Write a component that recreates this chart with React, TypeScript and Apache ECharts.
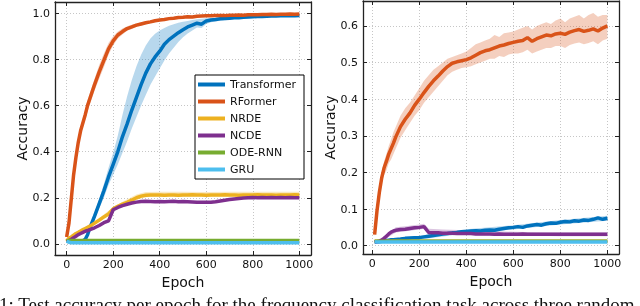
import React, { useEffect, useRef } from 'react';
import * as echarts from 'echarts';

// ---------- shared ----------
const SERIES_NAMES = ['Transformer', 'RFormer', 'NRDE', 'NCDE', 'ODE-RNN', 'GRU'];
const COLORS = ['#0072BD', '#D95319', '#EDB120', '#7E2F8E', '#77AC30', '#4DBEEE'];

// ---------- left panel ----------
const EPOCHS_L = [0, 10, 20, 30, 40, 50, 60, 70, 80, 90, 100, 120, 140, 160, 180, 200, 220, 240, 260, 280, 300, 320, 340, 360, 380, 400, 420, 440, 460, 480, 500, 520, 540, 560, 580, 600, 620, 640, 660, 680, 700, 720, 740, 760, 780, 800, 820, 840, 860, 880, 900, 920, 940, 960, 980, 1000];

const TRANS_L = [0.012, 0.012, 0.011, 0.01, 0.01, 0.01, 0.011, 0.014, 0.02, 0.04, 0.07, 0.12, 0.175, 0.23, 0.29, 0.345, 0.40, 0.465, 0.52, 0.58, 0.635, 0.69, 0.74, 0.78, 0.81, 0.835, 0.865, 0.885, 0.9, 0.915, 0.928, 0.94, 0.948, 0.956, 0.952, 0.966, 0.97, 0.972, 0.975, 0.976, 0.978, 0.98, 0.98, 0.982, 0.983, 0.984, 0.985, 0.985, 0.986, 0.987, 0.987, 0.988, 0.988, 0.989, 0.988, 0.99];
const TRANS_L_UP = [0.016, 0.016, 0.015, 0.014, 0.014, 0.014, 0.015, 0.018, 0.026, 0.048, 0.08, 0.135, 0.195, 0.26, 0.33, 0.395, 0.47, 0.56, 0.64, 0.71, 0.77, 0.82, 0.86, 0.89, 0.91, 0.925, 0.935, 0.945, 0.952, 0.958, 0.962, 0.966, 0.97, 0.973, 0.975, 0.978, 0.979, 0.98, 0.982, 0.983, 0.984, 0.985, 0.986, 0.987, 0.988, 0.989, 0.989, 0.99, 0.99, 0.991, 0.991, 0.992, 0.992, 0.993, 0.992, 0.994];
const TRANS_L_LO = [0.008, 0.008, 0.007, 0.006, 0.006, 0.006, 0.007, 0.01, 0.014, 0.032, 0.06, 0.105, 0.155, 0.2, 0.255, 0.30, 0.345, 0.395, 0.445, 0.5, 0.55, 0.6, 0.645, 0.69, 0.725, 0.76, 0.795, 0.825, 0.85, 0.875, 0.895, 0.912, 0.925, 0.937, 0.935, 0.953, 0.96, 0.963, 0.967, 0.969, 0.971, 0.974, 0.975, 0.977, 0.978, 0.979, 0.981, 0.981, 0.982, 0.983, 0.983, 0.984, 0.984, 0.985, 0.984, 0.986];

const RFORMER_L = [0.03, 0.09, 0.195, 0.30, 0.375, 0.44, 0.49, 0.525, 0.56, 0.60, 0.63, 0.69, 0.745, 0.795, 0.845, 0.88, 0.905, 0.92, 0.933, 0.94, 0.948, 0.953, 0.958, 0.962, 0.967, 0.97, 0.972, 0.976, 0.978, 0.981, 0.982, 0.984, 0.983, 0.986, 0.987, 0.988, 0.988, 0.989, 0.99, 0.989, 0.991, 0.991, 0.992, 0.991, 0.993, 0.993, 0.993, 0.994, 0.994, 0.995, 0.994, 0.995, 0.995, 0.996, 0.995, 0.996];
const RFORMER_L_UP = [0.035, 0.1, 0.205, 0.31, 0.39, 0.455, 0.505, 0.545, 0.58, 0.625, 0.655, 0.715, 0.775, 0.825, 0.87, 0.9, 0.92, 0.933, 0.943, 0.949, 0.955, 0.96, 0.964, 0.967, 0.971, 0.974, 0.976, 0.979, 0.981, 0.984, 0.985, 0.987, 0.987, 0.989, 0.99, 0.991, 0.991, 0.992, 0.993, 0.992, 0.994, 0.994, 0.995, 0.994, 0.996, 0.996, 0.996, 0.997, 0.997, 0.998, 0.997, 0.998, 0.998, 0.999, 0.998, 0.999];
const RFORMER_L_LO = [0.025, 0.08, 0.185, 0.29, 0.36, 0.425, 0.475, 0.505, 0.54, 0.575, 0.605, 0.665, 0.715, 0.765, 0.82, 0.86, 0.89, 0.907, 0.923, 0.931, 0.941, 0.946, 0.952, 0.957, 0.963, 0.966, 0.968, 0.973, 0.975, 0.978, 0.979, 0.981, 0.979, 0.983, 0.984, 0.985, 0.985, 0.986, 0.987, 0.986, 0.988, 0.988, 0.989, 0.988, 0.99, 0.99, 0.99, 0.991, 0.991, 0.992, 0.991, 0.992, 0.992, 0.993, 0.992, 0.993];

const NRDE_L = [0.012, 0.025, 0.03, 0.038, 0.045, 0.05, 0.056, 0.062, 0.067, 0.072, 0.077, 0.09, 0.103, 0.117, 0.13, 0.152, 0.163, 0.172, 0.18, 0.19, 0.2, 0.207, 0.211, 0.212, 0.212, 0.212, 0.211, 0.212, 0.212, 0.211, 0.212, 0.212, 0.213, 0.212, 0.212, 0.211, 0.212, 0.212, 0.212, 0.213, 0.212, 0.212, 0.211, 0.212, 0.212, 0.212, 0.213, 0.212, 0.212, 0.212, 0.211, 0.212, 0.212, 0.212, 0.213, 0.212];
const NRDE_BAND_EPOCHS_L = [0, 50, 100, 150, 200, 250, 300, 340, 400, 500, 600, 700, 800, 900, 1000];
const NRDE_L_UP = [0.015, 0.055, 0.085, 0.12, 0.16, 0.188, 0.214, 0.225, 0.226, 0.226, 0.225, 0.226, 0.226, 0.226, 0.226];
const NRDE_L_LO = [0.01, 0.045, 0.07, 0.1, 0.142, 0.168, 0.19, 0.202, 0.205, 0.205, 0.205, 0.205, 0.206, 0.205, 0.205];

const NCDE_L = [0.01, 0.015, 0.02, 0.027, 0.033, 0.04, 0.045, 0.05, 0.055, 0.058, 0.062, 0.07, 0.08, 0.092, 0.10, 0.148, 0.158, 0.166, 0.172, 0.177, 0.181, 0.184, 0.185, 0.184, 0.183, 0.184, 0.183, 0.184, 0.185, 0.183, 0.184, 0.183, 0.182, 0.181, 0.18, 0.18, 0.181, 0.183, 0.186, 0.189, 0.192, 0.195, 0.197, 0.199, 0.2, 0.201, 0.2, 0.201, 0.2, 0.201, 0.2, 0.201, 0.2, 0.201, 0.2, 0.2];

const FLAT_EPOCHS_L = [0, 10, 20, 1000];
const ODERNN_L = [0.012, 0.015, 0.015, 0.015];
const GRU_L = [0.012, 0.007, 0.005, 0.005];

// ---------- right panel ----------
const EPOCHS_R = [10, 20, 30, 40, 50, 60, 70, 80, 90, 100, 120, 140, 160, 180, 200, 220, 240, 260, 280, 300, 320, 340, 360, 380, 400, 420, 440, 460, 480, 500, 520, 540, 560, 580, 600, 620, 640, 660, 680, 700, 720, 740, 760, 780, 800, 820, 840, 860, 880, 900, 920, 940, 960, 980, 1000];

const RFORMER_R = [0.03, 0.095, 0.145, 0.185, 0.212, 0.23, 0.25, 0.265, 0.28, 0.297, 0.325, 0.345, 0.362, 0.383, 0.40, 0.418, 0.435, 0.45, 0.463, 0.477, 0.489, 0.498, 0.502, 0.505, 0.508, 0.513, 0.52, 0.527, 0.532, 0.535, 0.54, 0.545, 0.548, 0.552, 0.555, 0.558, 0.56, 0.568, 0.558, 0.565, 0.57, 0.575, 0.573, 0.578, 0.58, 0.577, 0.583, 0.587, 0.59, 0.585, 0.588, 0.592, 0.586, 0.594, 0.6];
const RFORMER_R_UP = [0.035, 0.105, 0.16, 0.2, 0.23, 0.25, 0.272, 0.29, 0.31, 0.325, 0.355, 0.375, 0.39, 0.41, 0.43, 0.45, 0.465, 0.48, 0.49, 0.5, 0.51, 0.515, 0.52, 0.525, 0.53, 0.54, 0.55, 0.555, 0.56, 0.565, 0.575, 0.57, 0.58, 0.582, 0.585, 0.59, 0.595, 0.6, 0.59, 0.6, 0.605, 0.61, 0.605, 0.615, 0.62, 0.61, 0.62, 0.625, 0.63, 0.62, 0.63, 0.635, 0.625, 0.63, 0.63];
const RFORMER_R_LO = [0.025, 0.085, 0.13, 0.17, 0.192, 0.205, 0.225, 0.235, 0.25, 0.265, 0.295, 0.315, 0.335, 0.355, 0.37, 0.39, 0.405, 0.42, 0.435, 0.45, 0.465, 0.475, 0.48, 0.485, 0.487, 0.49, 0.495, 0.5, 0.505, 0.51, 0.51, 0.518, 0.515, 0.522, 0.525, 0.525, 0.528, 0.535, 0.525, 0.53, 0.535, 0.54, 0.54, 0.545, 0.545, 0.54, 0.548, 0.552, 0.555, 0.55, 0.553, 0.558, 0.55, 0.56, 0.565];

const TRANS_R = [0.01, 0.011, 0.011, 0.012, 0.013, 0.014, 0.015, 0.016, 0.016, 0.017, 0.018, 0.02, 0.021, 0.022, 0.022, 0.024, 0.026, 0.028, 0.03, 0.032, 0.033, 0.035, 0.036, 0.038, 0.039, 0.04, 0.041, 0.04, 0.042, 0.043, 0.042, 0.045, 0.047, 0.049, 0.05, 0.052, 0.05, 0.054, 0.056, 0.058, 0.056, 0.06, 0.062, 0.061, 0.064, 0.066, 0.065, 0.068, 0.067, 0.07, 0.069, 0.072, 0.076, 0.072, 0.075];
const TRANS_BAND_EPOCHS_R = [10, 200, 400, 600, 800, 1000];
const TRANS_R_UP = [0.013, 0.027, 0.045, 0.056, 0.07, 0.082];
const TRANS_R_LO = [0.007, 0.017, 0.033, 0.044, 0.058, 0.068];

const NCDE_R = [0.01, 0.011, 0.012, 0.015, 0.02, 0.026, 0.032, 0.037, 0.04, 0.042, 0.044, 0.045, 0.047, 0.049, 0.05, 0.052, 0.036, 0.035, 0.035, 0.034, 0.034, 0.034, 0.033, 0.033, 0.033, 0.033, 0.032, 0.032, 0.032, 0.032, 0.031, 0.032, 0.031, 0.031, 0.031, 0.031, 0.032, 0.031, 0.031, 0.031, 0.031, 0.031, 0.031, 0.031, 0.031, 0.031, 0.031, 0.031, 0.031, 0.031, 0.031, 0.031, 0.031, 0.031, 0.031];
const NCDE_BAND_EPOCHS_R = [10, 50, 100, 150, 200, 220, 240, 300, 400, 500, 600, 700, 800, 900, 1000];
const NCDE_R_UP = [0.012, 0.025, 0.05, 0.054, 0.058, 0.06, 0.046, 0.044, 0.042, 0.04, 0.038, 0.037, 0.036, 0.036, 0.036];
const NCDE_R_LO = [0.008, 0.016, 0.036, 0.04, 0.044, 0.046, 0.03, 0.029, 0.029, 0.028, 0.027, 0.027, 0.026, 0.026, 0.026];

const FLAT_EPOCHS_R = [10, 20, 30, 1000];
const NRDE_R = [0.012, 0.012, 0.012, 0.012];
const ODERNN_R = [0.012, 0.012, 0.012, 0.012];
const GRU_R = [0.011, 0.01, 0.01, 0.01];

const CAPTION = '1: Test accuracy per epoch for the frequency classification task across three random seeds.';

// ---------- helpers ----------
const FONT = 'DejaVu Sans';
const FRAME = '#222';

const pairs = (xs: number[], ys: number[]) => xs.map((x, i) => [x, ys[i]]);

function line(name: string, color: string, xs: number[], ys: number[], ai: number) {
  return {
    type: 'line', name, xAxisIndex: ai, yAxisIndex: ai,
    data: pairs(xs, ys), symbol: 'none', showSymbol: false,
    color, itemStyle: { color }, lineStyle: { color, width: 3.5 },
    silent: true, z: 3, emphasis: { disabled: true },
  };
}

// shaded min/max band drawn as one polygon through the axis scales
function band(id: string, color: string, xs: number[], lo: number[], up: number[], ai: number) {
  return {
    type: 'custom', name: id, xAxisIndex: ai, yAxisIndex: ai, silent: true, z: 2,
    data: xs.map((x, i) => [x, lo[i], up[i]]),
    encode: { x: 0, y: [1, 2] },
    renderItem: (params: any, api: any) => {
      if (params.dataIndex !== 0) return null;
      const top = xs.map((x, i) => api.coord([x, up[i]]));
      const bottom = xs.map((x, i) => api.coord([x, lo[i]])).reverse();
      return {
        type: 'polygon',
        shape: { points: top.concat(bottom) },
        style: { fill: color, opacity: 0.28 },
        silent: true,
      };
    },
  };
}

function xAxisDef(gridIndex: number, position: string, primary: boolean, min: number, max: number) {
  return {
    type: 'value', gridIndex, position, min, max,
    name: primary ? 'Epoch' : '', nameLocation: 'middle', nameGap: 17,
    nameTextStyle: { fontSize: 14, color: '#111', fontFamily: FONT },
    axisLine: { show: true, onZero: false, lineStyle: { color: FRAME, width: 1.3 } },
    axisTick: { show: true, inside: true, length: 4, lineStyle: { color: FRAME, width: 1 } },
    axisLabel: {
      show: primary, showMinLabel: false, showMaxLabel: false, fontSize: 11, color: '#111', margin: 4, fontFamily: FONT,
      formatter: (v: number) => String(Math.round(v)),
    },
    splitLine: { show: primary, lineStyle: { color: '#b8b8b8', type: [1, 2], width: 0.8 } },
  };
}

function yAxisDef(gridIndex: number, position: string, primary: boolean, min: number, max: number) {
  return {
    type: 'value', gridIndex, position, min, max,
    name: primary ? 'Accuracy' : '', nameLocation: 'middle', nameGap: 26, nameRotate: 90,
    nameTextStyle: { fontSize: 14, color: '#111', fontFamily: FONT },
    axisLine: { show: true, onZero: false, lineStyle: { color: FRAME, width: 1.3 } },
    axisTick: { show: true, inside: true, length: 4, lineStyle: { color: FRAME, width: 1 } },
    axisLabel: {
      show: primary, showMinLabel: false, showMaxLabel: false, fontSize: 11, color: '#111', margin: 5, fontFamily: FONT,
      formatter: (v: number) => v.toFixed(1),
    },
    splitLine: { show: primary, lineStyle: { color: '#b8b8b8', type: [1, 2], width: 0.8 } },
  };
}

function buildOption() {
  const series: any[] = [
    // left bands
    band('bTL', COLORS[0], EPOCHS_L, TRANS_L_LO, TRANS_L_UP, 0),
    band('bRL', COLORS[1], EPOCHS_L, RFORMER_L_LO, RFORMER_L_UP, 0),
    band('bNL', COLORS[2], NRDE_BAND_EPOCHS_L, NRDE_L_LO, NRDE_L_UP, 0),
    // right bands
    band('bRR', COLORS[1], EPOCHS_R, RFORMER_R_LO, RFORMER_R_UP, 2),
    band('bTR', COLORS[0], TRANS_BAND_EPOCHS_R, TRANS_R_LO, TRANS_R_UP, 2),
    band('bCR', COLORS[3], NCDE_BAND_EPOCHS_R, NCDE_R_LO, NCDE_R_UP, 2),
    // left lines
    line(SERIES_NAMES[0], COLORS[0], EPOCHS_L, TRANS_L, 0),
    line(SERIES_NAMES[1], COLORS[1], EPOCHS_L, RFORMER_L, 0),
    line(SERIES_NAMES[2], COLORS[2], EPOCHS_L, NRDE_L, 0),
    line(SERIES_NAMES[3], COLORS[3], EPOCHS_L, NCDE_L, 0),
    line(SERIES_NAMES[4], COLORS[4], FLAT_EPOCHS_L, ODERNN_L, 0),
    line(SERIES_NAMES[5], COLORS[5], FLAT_EPOCHS_L, GRU_L, 0),
    // right lines
    line(SERIES_NAMES[0], COLORS[0], EPOCHS_R, TRANS_R, 2),
    line(SERIES_NAMES[1], COLORS[1], EPOCHS_R, RFORMER_R, 2),
    line(SERIES_NAMES[2], COLORS[2], FLAT_EPOCHS_R, NRDE_R, 2),
    line(SERIES_NAMES[3], COLORS[3], EPOCHS_R, NCDE_R, 2),
    line(SERIES_NAMES[4], COLORS[4], FLAT_EPOCHS_R, ODERNN_R, 2),
    line(SERIES_NAMES[5], COLORS[5], FLAT_EPOCHS_R, GRU_R, 2),
  ];

  return {
    animation: false,
    textStyle: { fontFamily: FONT },
    grid: [
      { left: 55, top: 2, width: 256, height: 253 },
      { left: 363, top: 1, width: 256, height: 253 },
    ],
    xAxis: [
      xAxisDef(0, 'bottom', true, -50, 1050),
      xAxisDef(0, 'top', false, -50, 1050),
      xAxisDef(1, 'bottom', true, -39.5, 1049.5),
      xAxisDef(1, 'top', false, -39.5, 1049.5),
    ],
    yAxis: [
      yAxisDef(0, 'left', true, -0.048, 1.048),
      yAxisDef(0, 'right', false, -0.048, 1.048),
      yAxisDef(1, 'left', true, -0.0227, 0.668),
      yAxisDef(1, 'right', false, -0.0227, 0.668),
    ],
    legend: {
      data: SERIES_NAMES,
      orient: 'vertical',
      left: 195, top: 75,
      icon: 'rect', itemWidth: 27, itemHeight: 4, itemGap: 6,
      padding: [4, 8, 4, 3],
      backgroundColor: '#fff', borderColor: '#000', borderWidth: 1, borderRadius: 0,
      selectedMode: false,
      textStyle: { fontSize: 11, color: '#111', fontFamily: FONT },
      z: 10,
    },
    graphic: [
      {
        type: 'text', x: -1, y: 295, silent: true,
        style: { text: CAPTION, fontFamily: 'Liberation Serif', fontSize: 19, fill: '#111', textVerticalAlign: 'top' },
      },
    ],
    series,
  };
}

export default function App() {
  const ref = useRef<HTMLDivElement>(null);
  useEffect(() => {
    if (!ref.current) return;
    const chart = echarts.init(ref.current, null, { renderer: 'svg' });
    chart.setOption(buildOption() as any);
    return () => chart.dispose();
  }, []);
  return <div ref={ref} style={{ position: 'fixed', left: 0, top: 0, width: 640, height: 306 }} />;
}
